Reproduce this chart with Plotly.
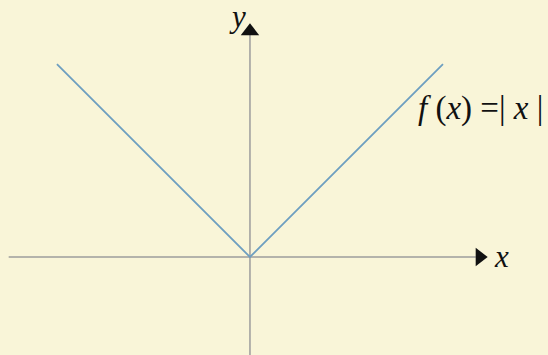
import plotly.graph_objects as go

# graph of f(x) = |x|
x_vals = [-1, 0, 1]
y_vals = [1, 0, 1]

# axis extents (data units)
x_axis = [-1.25, 1.17]
y_axis = [-0.51, 1.15]

bg = '#f9f5d8'

fig = go.Figure()

# coordinate axes
fig.add_trace(go.Scatter(x=x_axis, y=[0, 0], mode='lines',
                         line=dict(color='#9c9c9c', width=1.5), hoverinfo='skip'))
fig.add_trace(go.Scatter(x=[0, 0], y=y_axis, mode='lines',
                         line=dict(color='#9c9c9c', width=1.5), hoverinfo='skip'))

# arrow heads
fig.add_trace(go.Scatter(x=[x_axis[1] + 0.02], y=[0], mode='markers',
                         marker=dict(symbol='triangle-right', size=16, color='#111111'),
                         hoverinfo='skip'))
fig.add_trace(go.Scatter(x=[0], y=[y_axis[1] + 0.02], mode='markers',
                         marker=dict(symbol='triangle-up', size=16, color='#111111'),
                         hoverinfo='skip'))

# the function
fig.add_trace(go.Scatter(x=x_vals, y=y_vals, mode='lines',
                         line=dict(color='#6e9fc0', width=1.8)))

font = dict(family='Liberation Serif, Times New Roman, serif', size=31, color='#111111')
fig.add_annotation(x=-0.065, y=1.245, text='<i>y</i>', showarrow=False, font=font)
fig.add_annotation(x=1.305, y=0.0, text='<i>x</i>', showarrow=False, font=font)
fig.add_annotation(x=0.86, y=0.77, text='<i>f</i> (<i>x</i>) =| <i>x</i> |',
                   showarrow=False, xanchor='left', font=dict(font, size=33))

fig.update_layout(
    width=548, height=355,
    margin=dict(l=0, r=0, t=0, b=0),
    paper_bgcolor=bg, plot_bgcolor=bg,
    showlegend=False,
    xaxis=dict(range=[-1.295, 1.544], visible=False, fixedrange=True),
    yaxis=dict(range=[-0.508, 1.332], visible=False, fixedrange=True),
)

# drop the page margin so the figure fills the window
fig.write_html("out.html", config={'displayModeBar': False},
               post_script="document.body.style.margin='0';")
